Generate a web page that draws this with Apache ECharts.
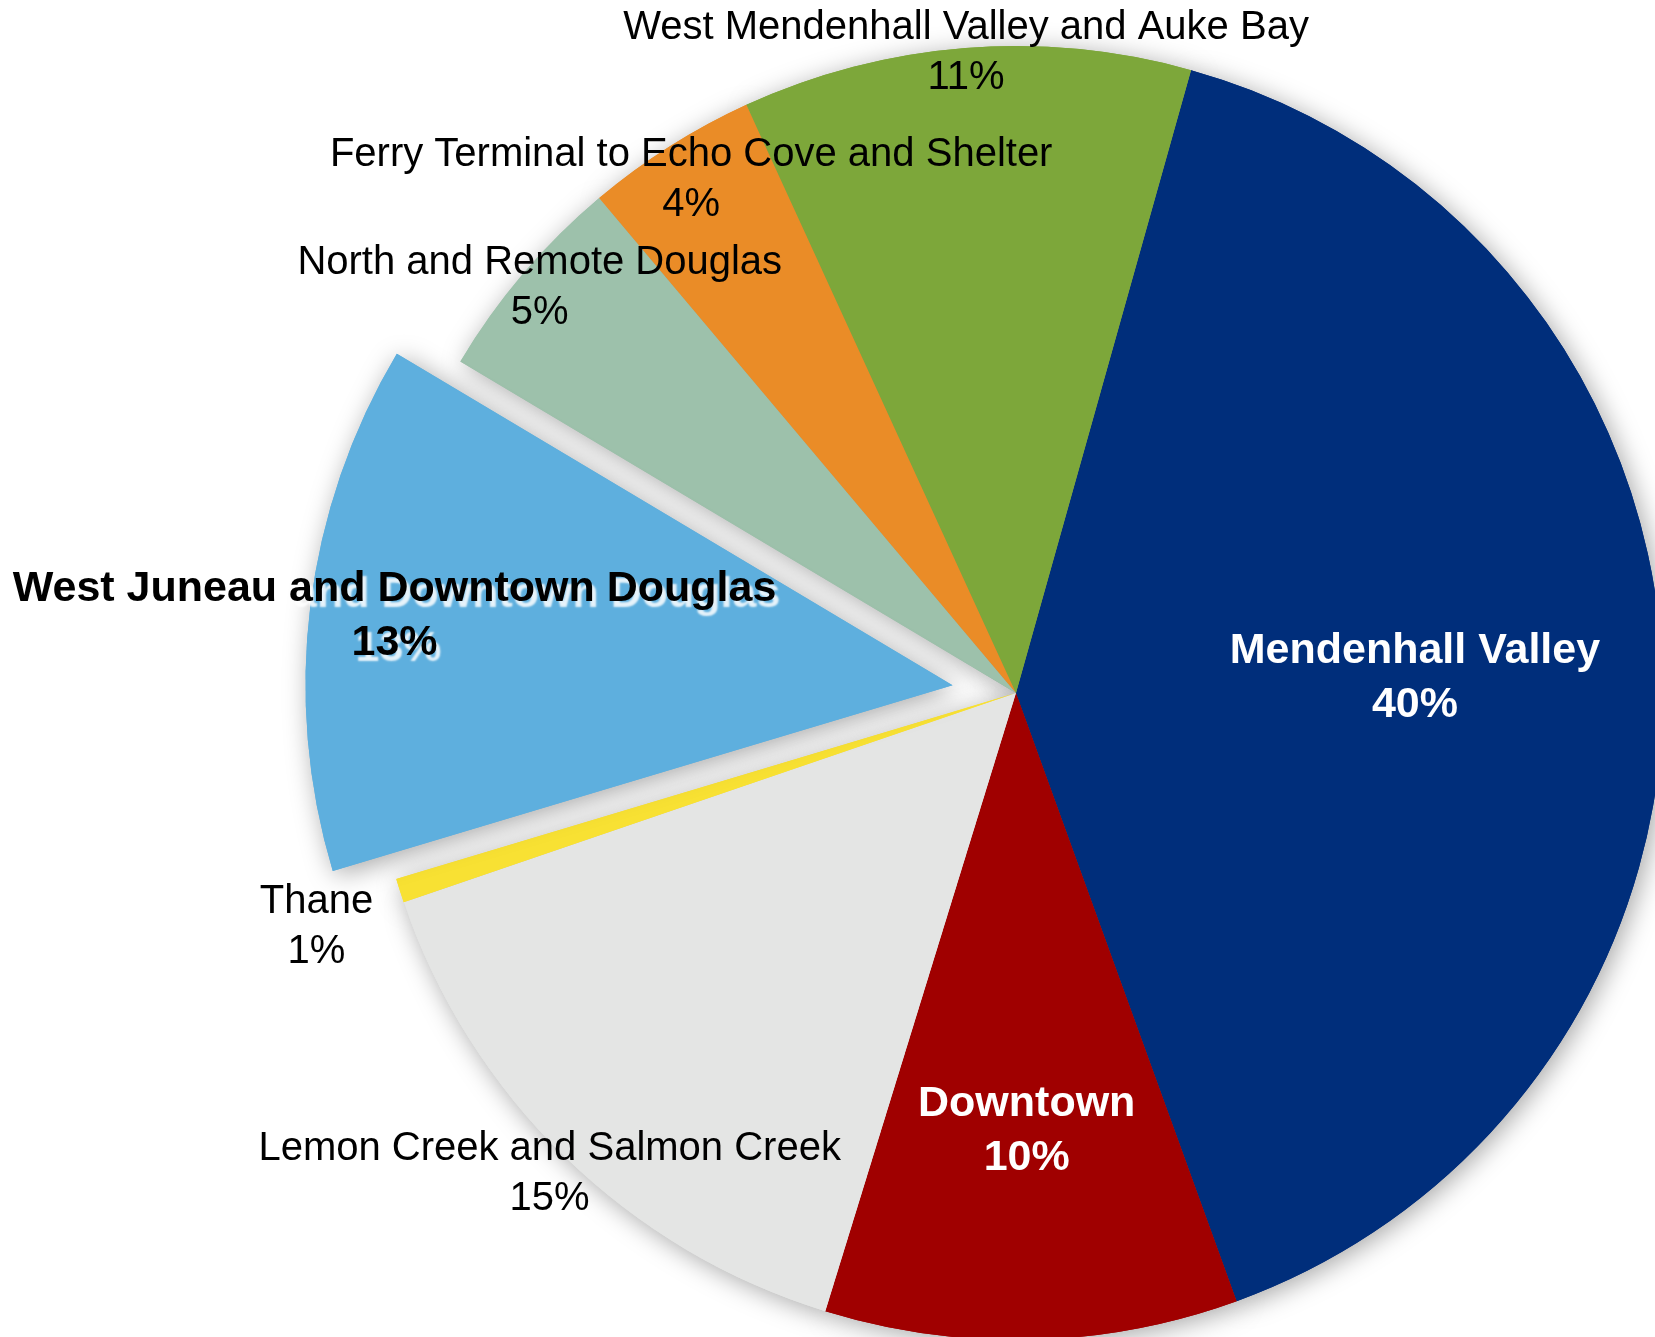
<!DOCTYPE html>
<html>
<head>
<meta charset="utf-8">
<title>Juneau areas</title>
<script src="https://cdn.jsdelivr.net/npm/echarts@6/dist/echarts.min.js"></script>
<style>
  html, body { margin: 0; padding: 0; background: #fff; }
  #chart { width: 1655px; height: 1337px; }
</style>
</head>
<body>
<div id="chart"></div>
<script>
// slices, clockwise from the Mendenhall Valley slice
const areaNames = [
  'Mendenhall Valley',
  'Downtown',
  'Lemon Creek and Salmon Creek',
  'Thane',
  'West Juneau and Downtown Douglas',
  'North and Remote Douglas',
  'Ferry Terminal to Echo Cove and Shelter',
  'West Mendenhall Valley and Auke Bay'
]
const areaShares = [40.1, 10.3, 15.0, 0.6, 13.2, 5.3, 4.3, 11.2]
const areaColors = ['#002E7B', '#A00000', '#E4E5E4', '#F8E133', '#5EAFDE', '#9DC1AB', '#EA8C27', '#7DA73A']
const explodedArea = 'West Juneau and Downtown Douglas'

const center = [1016, 693]
const radius = 647
const startAngle = 74.3
const explodeOffset = 64
// where each label sits: fraction of the radius, and a small turn in degrees
const labelDist = [0.617, 0.677, 1.035, 1.14, 0.869, 0.966, 0.938, 0.992]
const labelTurn = [0, 0, 0, -0.7, 0, 0, 0, 0]

const total = areaShares.reduce((a, b) => a + b, 0)
// mid angle of each slice, degrees clockwise from 12 o'clock
const midAngles = []
let acc = 90 - startAngle
areaShares.forEach(v => {
  const span = v / total * 360
  midAngles.push(acc + span / 2)
  acc += span
})

const chart = echarts.init(document.getElementById('chart'))

function sliceData(transparent) {
  return areaNames.map((name, i) => ({
    name: name,
    value: areaShares[i],
    selected: !transparent && name === explodedArea,
    itemStyle: { color: transparent ? 'rgba(0,0,0,0)' : areaColors[i] }
  }))
}

function labelData() {
  return sliceData(true).map((item, i) => {
    const bold = i === 0 || i === 1 || item.name === explodedArea
    const white = i === 0 || i === 1
    item.label = {
      fontWeight: bold ? 'bold' : 'normal',
      fontSize: bold ? 43 : 40,
      lineHeight: bold ? 54 : 50,
      color: white ? '#fff' : '#000'
    }
    if (item.name === explodedArea) {
      item.label.textShadowColor = 'rgba(255,255,255,0.85)'
      item.label.textShadowBlur = 2
      item.label.textShadowOffsetX = 4
      item.label.textShadowOffsetY = 6
    }
    return item
  })
}

const pieBase = {
  type: 'pie',
  silent: true,
  center: center,
  radius: radius,
  startAngle: startAngle,
  clockwise: true,
  selectedMode: 'single',
  selectedOffset: explodeOffset,
  labelLine: { show: false }
}

chart.setOption({
  animation: false,
  backgroundColor: '#fff',
  series: [
    Object.assign({}, pieBase, {
      // shadow layer underneath, so slices don't shade each other
      label: { show: false },
      itemStyle: {
        borderWidth: 0,
        shadowBlur: 26,
        shadowColor: 'rgba(0,0,0,0.35)',
        shadowOffsetX: 4,
        shadowOffsetY: 4
      },
      data: sliceData(false)
    }),
    Object.assign({}, pieBase, {
      label: { show: false },
      itemStyle: { borderWidth: 0 },
      data: sliceData(false)
    }),
    Object.assign({}, pieBase, {
      // label layer: transparent slices, labels placed along each mid angle
      z: 5,
      itemStyle: { borderWidth: 0 },
      label: {
        show: true,
        position: 'inside',
        fontFamily: 'Liberation Sans, Arial, sans-serif',
        align: 'center',
        verticalAlign: 'middle',
        formatter: p => p.name + '\n' + Math.round(p.value) + '%'
      },
      labelLayout: function (params) {
        const i = params.dataIndex
        const a = (midAngles[i] + labelTurn[i]) * Math.PI / 180
        let r = labelDist[i] * radius
        if (areaNames[i] === explodedArea) r += explodeOffset
        return {
          x: center[0] + r * Math.sin(a),
          y: center[1] - r * Math.cos(a),
          align: 'center',
          verticalAlign: 'middle'
        }
      },
      data: labelData()
    })
  ]
})
</script>
</body>
</html>
